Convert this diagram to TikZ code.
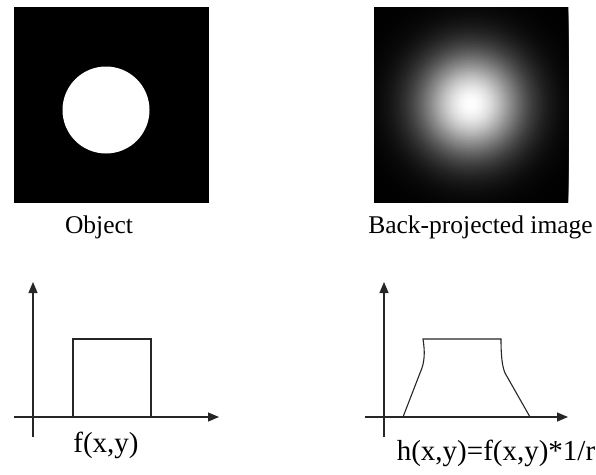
\documentclass[tikz,border=0pt]{standalone}
\usepackage{fontspec}
\setmainfont{Liberation Serif}
\usetikzlibrary{arrows.meta}
\tikzset{
  panel/.style={fill=black},
  toplabel/.style={anchor=base, inner sep=0pt, font=\fontsize{25.5}{30}\selectfont},
  botlabel/.style={anchor=base, inner sep=0pt, font=\fontsize{29}{34}\selectfont},
  axis/.style={line width=1.2pt, draw=black!85, -{Triangle[length=11pt,width=9pt]}},
  curve/.style={line width=1.1pt, draw=black!85},
}
\begin{document}
\begin{tikzpicture}[x=1pt,y=-1pt]
\useasboundingbox (0,0) rectangle (596,474);
\fill[white] (0,0) rectangle (596,474);
% object panel
\fill[panel] (14,7) rectangle (209,203);
\fill[white] (106,110) circle (43.5);
\node[toplabel] (obj) at (99,233) {Object};
% back-projected panel
\fill[panel] (374,7) rectangle (568,202);
\begin{scope}
\clip (374,7) rectangle (568,202);
\foreach \r in {140,138.5,...,1} {
  \pgfmathsetmacro{\g}{100*exp(-(\r/52)^2)}
  \fill[white!\g!black] (471,104) circle (\r);
}
\end{scope}
\node[toplabel] (bp) at (480.5,233) {Back-projected image};
% left chart
\coordinate (lyb) at (33,437);
\coordinate (lyt) at (33,282);
\coordinate (lxl) at (14,417);
\coordinate (lxr) at (219,417);
\draw[axis] (lyb) -- (lyt);
\draw[axis] (lxl) -- (lxr);
\draw[curve] (73,417) -- (73,339) -- (151,339) -- (151,417);
\node[botlabel] (f) at (106,452) {f(x,y)};
% right chart
\coordinate (ryb) at (384,437);
\coordinate (ryt) at (384,282);
\coordinate (rxl) at (365,417);
\coordinate (rxr) at (568,417);
\draw[axis] (ryb) -- (ryt);
\draw[axis] (rxl) -- (rxr);
\draw[curve] (403,417) -- (420,373) .. controls (425,362) and (425,352) .. (423,339)
  -- (501,339) .. controls (501,355) and (502,366) .. (505,373) -- (530,417);
\node[botlabel] (h) at (496,460) {h(x,y)=f(x,y)*1/r};
\end{tikzpicture}
\end{document}
